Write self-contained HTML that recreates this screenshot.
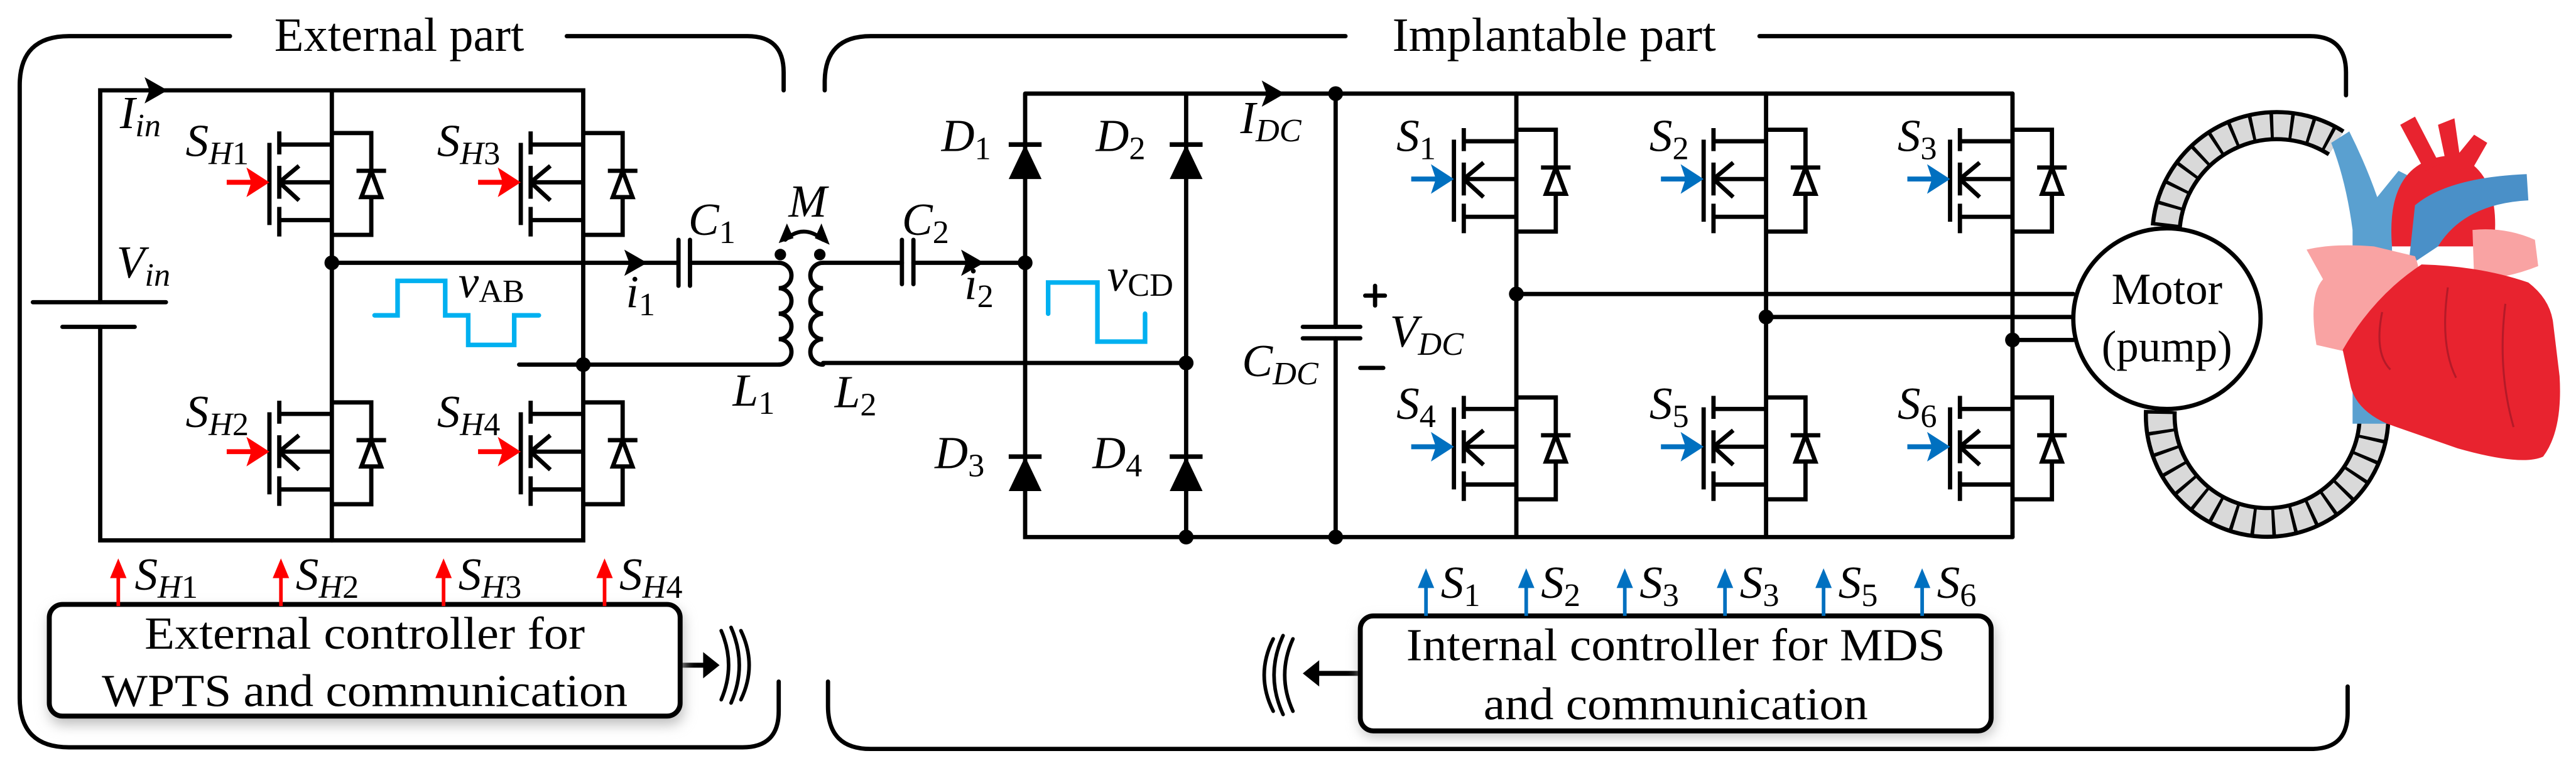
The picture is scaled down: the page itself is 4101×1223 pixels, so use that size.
<!DOCTYPE html>
<html><head><meta charset="utf-8"><style>html,body{margin:0;padding:0;background:#fff}svg{display:block;font-family:"Liberation Serif","Times New Roman",Times,"DejaVu Serif",serif}svg text,svg tspan{font-family:"Liberation Serif","Times New Roman",Times,"DejaVu Serif",serif}</style></head>
<body>
<svg xmlns="http://www.w3.org/2000/svg" width="4101" height="1223" viewBox="0 0 1568 467.6" preserveAspectRatio="none" font-family="'Liberation Serif', 'Times New Roman', serif">
<defs>
<filter id="sh" x="-10%" y="-20%" width="120%" height="140%"><feGaussianBlur stdDeviation="4"/></filter>
<g id="mos" fill="none" stroke="#000" stroke-width="2.6">
 <path d="M0,7H-32M-32,30H0M-32,53H0"/>
 <path d="M-32,-1V13M-32,20V40M-32,45V63"/>
 <path d="M-38,6V56"/>
 <path d="M-32,30L-20,20M-32,30L-20,41"/>
 <path d="M0,0H24V62H0"/>
 <path d="M24,23V39" />
 <polygon points="24,23 18,39 30,39" fill="#fff"/>
 <path d="M15,23H33"/>
</g>
<g id="garR"><path d="M-64,30H-48" stroke="#f00" stroke-width="3"/><polygon points="-38,30 -52,21 -49,30 -52,39" fill="#f00"/></g>
<g id="garB"><path d="M-64,30H-48" stroke="#0070c0" stroke-width="3"/><polygon points="-38,30 -52,21 -49,30 -52,39" fill="#0070c0"/></g>
<g id="dio"><path d="M-10,0H10" stroke="#000" stroke-width="2.8"/><polygon points="0,0 -10,21 10,21" fill="#000"/></g>
</defs>

<g fill="none" stroke="#000" stroke-width="2.6" stroke-linecap="round">
<path d="M140,22H42Q12,22 12,52V425Q12,455 42,455H452Q474,455 474,433V415"/>
<path d="M345,22H455Q477,22 477,44V55"/>
<path d="M819,22H530Q502,22 502,50V55"/>
<path d="M1071,22H1406Q1428,22 1428,44V58"/>
<path d="M504,415V430Q504,456 530,456H1407Q1429,456 1429,434V418"/>

<path d="M61,184V55H355V329H61V199"/>
<path d="M20,184H101M38,199H82"/>
<path d="M202,55V329"/>
<path d="M202,160H413M420,160H474"/>
<path d="M316,222H474"/>
<path d="M413,146V174M420,146V174"/>
<path d="M474,160a7.75,7.75 0 0 1 0,15.5a7.75,7.75 0 0 1 0,15.5a7.75,7.75 0 0 1 0,15.5a7.75,7.75 0 0 1 0,15.5"/>
<path d="M501,160a7.75,7.75 0 0 0 0,15.5a7.75,7.75 0 0 0 0,15.5a7.75,7.75 0 0 0 0,15.5a7.75,7.75 0 0 0 0,15.5"/>
<path d="M501,160H549M556,160H624M501,221H722"/>
<path d="M549,146V173M556,146V173"/>
<path d="M478,146Q489,136 501,146" stroke-width="2.4"/>
<path d="M624,57H1225M624,57V327H1225M722,57V327M813,57V199M813,206V327"/>
<path d="M793,199H828M793,206H828"/>
<path d="M831,180H843M837,174V186M828,224H842"/>
<path d="M923,57V327M1075,57V327M1225,57V327"/>
<path d="M923,179H1262M1075,193H1261M1225,207H1262"/>
<path d="M414,405H430" stroke-width="3"/>
<path d="M828,410H803" stroke-width="3"/>
<path d="M439,384Q448,405 439,426M445,382Q455,405 445,428M451,384Q461,405 451,426" stroke-width="2.2"/>
<path d="M787,389Q777,411 787,433M781,387Q770,411 781,435M775,389Q764,411 775,433" stroke-width="2.2"/>
</g>
<polygon points="438,405 428,397 428,413"/>
<polygon points="793,410 803,402 803,418"/>

<polygon points="102,55 88,47 91,55 88,63"/>
<polygon points="394,160 380,152 383,160 380,168"/>
<polygon points="599,160 585,152 588,160 585,168"/>
<polygon points="782,57 768,49 771,57 768,65"/>
<polygon points="474,148 479,136 483,145"/>
<polygon points="505,149 500,136 496,145"/>
<g fill="#000"><circle cx="202" cy="160" r="4.5"/><circle cx="355" cy="222" r="4.5"/><circle cx="475" cy="155" r="3.5"/><circle cx="499" cy="155" r="3.5"/>
<circle cx="624" cy="160" r="4.5"/><circle cx="722" cy="221" r="4.5"/><circle cx="722" cy="327" r="4.5"/><circle cx="813" cy="57" r="4.5"/><circle cx="813" cy="327" r="4.5"/>
<circle cx="923" cy="179" r="4.5"/><circle cx="1075" cy="193" r="4.5"/><circle cx="1225" cy="207" r="4.5"/></g>

<use href="#dio" x="624" y="88"/><use href="#dio" x="722" y="88"/><use href="#dio" x="624" y="278"/><use href="#dio" x="722" y="278"/>

<use href="#mos" x="202" y="81"/><use href="#garR" x="202" y="81"/>
<use href="#mos" x="355" y="81"/><use href="#garR" x="355" y="81"/>
<use href="#mos" x="202" y="245"/><use href="#garR" x="202" y="245"/>
<use href="#mos" x="355" y="245"/><use href="#garR" x="355" y="245"/>
<use href="#mos" x="923" y="79"/><use href="#garB" x="923" y="79"/>
<use href="#mos" x="1075" y="79"/><use href="#garB" x="1075" y="79"/>
<use href="#mos" x="1225" y="79"/><use href="#garB" x="1225" y="79"/>
<use href="#mos" x="923" y="242"/><use href="#garB" x="923" y="242"/>
<use href="#mos" x="1075" y="242"/><use href="#garB" x="1075" y="242"/>
<use href="#mos" x="1225" y="242"/><use href="#garB" x="1225" y="242"/>

<path d="M228,192H242V171H271V192H285V210H313V192H328" fill="none" stroke="#00b0f0" stroke-width="2.8" stroke-linecap="round"/>
<path d="M638,191V172H668V208H697V191" fill="none" stroke="#00b0f0" stroke-width="2.8" stroke-linecap="round"/>

<rect x="30" y="371" width="386" height="70" rx="8" fill="#bbb" filter="url(#sh)"/>
<rect x="30" y="368" width="384" height="68" rx="8" fill="#fff" stroke="#000" stroke-width="3"/>
<rect x="828" y="378" width="386" height="70" rx="8" fill="#bbb" filter="url(#sh)"/>
<rect x="828" y="375" width="384" height="70" rx="8" fill="#fff" stroke="#000" stroke-width="3"/>
<g font-size="28" text-anchor="middle">
<text x="222" y="395" textLength="268" lengthAdjust="spacingAndGlyphs">External controller for</text>
<text x="222" y="430" textLength="320" lengthAdjust="spacingAndGlyphs">WPTS and communication</text>
<text x="1020" y="402" textLength="328" lengthAdjust="spacingAndGlyphs">Internal controller for MDS</text>
<text x="1020" y="438" textLength="234" lengthAdjust="spacingAndGlyphs">and communication</text>
<text x="243" y="31" font-size="29" textLength="152" lengthAdjust="spacingAndGlyphs">External part</text>
<text x="946" y="31" font-size="29" textLength="197" lengthAdjust="spacingAndGlyphs">Implantable part</text>
</g>

<g stroke="#f00" stroke-width="2.2"><path d="M72,369V348M171,369V348M270,369V348M368,369V348"/></g>
<g fill="#f00"><polygon points="72,340 67,352 77,352"/><polygon points="171,340 166,352 176,352"/><polygon points="270,340 265,352 275,352"/><polygon points="368,340 363,352 373,352"/></g>
<g stroke="#0070c0" stroke-width="2.2"><path d="M868,375V354M929,375V354M989,375V354M1050,375V354M1110,375V354M1170,375V354"/></g>
<g fill="#0070c0"><polygon points="868,346 863,358 873,358"/><polygon points="929,346 924,358 934,358"/><polygon points="989,346 984,358 994,358"/><polygon points="1050,346 1045,358 1055,358"/><polygon points="1110,346 1105,358 1115,358"/><polygon points="1170,346 1165,358 1175,358"/></g>

<g font-size="28" font-style="italic">
<text x="82" y="359">S<tspan font-size="20" dy="5">H</tspan><tspan font-size="20" font-style="normal">1</tspan></text>
<text x="180" y="359">S<tspan font-size="20" dy="5">H</tspan><tspan font-size="20" font-style="normal">2</tspan></text>
<text x="279" y="359">S<tspan font-size="20" dy="5">H</tspan><tspan font-size="20" font-style="normal">3</tspan></text>
<text x="377" y="359">S<tspan font-size="20" dy="5">H</tspan><tspan font-size="20" font-style="normal">4</tspan></text>
<text x="113" y="95">S<tspan font-size="20" dy="5">H</tspan><tspan font-size="20" font-style="normal">1</tspan></text>
<text x="266" y="95">S<tspan font-size="20" dy="5">H</tspan><tspan font-size="20" font-style="normal">3</tspan></text>
<text x="113" y="260">S<tspan font-size="20" dy="5">H</tspan><tspan font-size="20" font-style="normal">2</tspan></text>
<text x="266" y="260">S<tspan font-size="20" dy="5">H</tspan><tspan font-size="20" font-style="normal">4</tspan></text>
<text x="73" y="78">I<tspan font-size="20" dy="5">in</tspan></text>
<text x="71" y="169">V<tspan font-size="20" dy="5">in</tspan></text>
<text x="419" y="143">C<tspan font-size="20" dy="5" font-style="normal">1</tspan></text>
<text x="480" y="132">M</text>
<text x="381" y="187">i<tspan font-size="20" dy="5" font-style="normal">1</tspan></text>
<text x="446" y="247">L<tspan font-size="20" dy="5" font-style="normal">1</tspan></text>
<text x="508" y="248">L<tspan font-size="20" dy="5" font-style="normal">2</tspan></text>
<text x="549" y="143">C<tspan font-size="20" dy="5" font-style="normal">2</tspan></text>
<text x="587" y="182">i<tspan font-size="20" dy="5" font-style="normal">2</tspan></text>
<text x="279" y="181">v<tspan font-size="20" dy="3" font-style="normal">AB</tspan></text>
<text x="674" y="177">v<tspan font-size="20" dy="3" font-style="normal">CD</tspan></text>
<text x="573" y="92">D<tspan font-size="20" dy="5" font-style="normal">1</tspan></text>
<text x="667" y="92">D<tspan font-size="20" dy="5" font-style="normal">2</tspan></text>
<text x="569" y="285">D<tspan font-size="20" dy="5" font-style="normal">3</tspan></text>
<text x="665" y="285">D<tspan font-size="20" dy="5" font-style="normal">4</tspan></text>
<text x="755" y="81">I<tspan font-size="20" dy="5">DC</tspan></text>
<text x="756" y="229">C<tspan font-size="20" dy="5">DC</tspan></text>
<text x="846" y="211">V<tspan font-size="20" dy="5">DC</tspan></text>
<text x="850" y="92">S<tspan font-size="20" dy="5" font-style="normal">1</tspan></text>
<text x="1004" y="92">S<tspan font-size="20" dy="5" font-style="normal">2</tspan></text>
<text x="1155" y="92">S<tspan font-size="20" dy="5" font-style="normal">3</tspan></text>
<text x="850" y="255">S<tspan font-size="20" dy="5" font-style="normal">4</tspan></text>
<text x="1004" y="255">S<tspan font-size="20" dy="5" font-style="normal">5</tspan></text>
<text x="1155" y="255">S<tspan font-size="20" dy="5" font-style="normal">6</tspan></text>
<text x="877" y="364">S<tspan font-size="20" dy="5" font-style="normal">1</tspan></text>
<text x="938" y="364">S<tspan font-size="20" dy="5" font-style="normal">2</tspan></text>
<text x="998" y="364">S<tspan font-size="20" dy="5" font-style="normal">3</tspan></text>
<text x="1059" y="364">S<tspan font-size="20" dy="5" font-style="normal">3</tspan></text>
<text x="1119" y="364">S<tspan font-size="20" dy="5" font-style="normal">5</tspan></text>
<text x="1179" y="364">S<tspan font-size="20" dy="5" font-style="normal">6</tspan></text>
</g>

<g fill="none">
<path d="M1318.6,138 A67.5,67.5 0 0 1 1422,87" stroke="#000" stroke-width="19"/>
<path d="M1318.6,138 A67.5,67.5 0 0 1 1422,87" stroke="#d9d9d9" stroke-width="14"/>
<path d="M1318.6,138 A67.5,67.5 0 0 1 1422,87" stroke="#000" stroke-width="15" stroke-dasharray="2 10"/>
<path d="M1315,250 A65,65 0 0 0 1445,256" stroke="#000" stroke-width="20"/>
<path d="M1315,250 A65,65 0 0 0 1445,256" stroke="#d9d9d9" stroke-width="15"/>
<path d="M1315,250 A65,65 0 0 0 1445,256" stroke="#000" stroke-width="16" stroke-dasharray="2 10"/>
</g>

<g>
<path d="M1419,87 L1430,80 Q1440,100 1447,120 L1460,104 L1472,110 Q1458,125 1456,150 L1456,258 L1432,258 L1432,140 Q1428,110 1419,87 Z" fill="#5aa0d0"/>
<path d="M1456,150 Q1452,100 1488,95 L1484,76 L1494,72 L1497,93 L1506,82 L1514,87 L1506,101 Q1522,115 1518,150 Z" fill="#e8232f"/>
<path d="M1461,76 L1470,71 L1485,100 L1476,104 Z" fill="#e8232f"/>
<path d="M1470,125 Q1490,108 1538,106 L1539,122 Q1500,124 1484,150 L1466,162 Z" fill="#4a90c8"/>
<path d="M1404,152 Q1420,148 1445,150 L1470,156 Q1478,175 1460,190 L1432,215 L1410,210 Q1405,180 1414,170 Z" fill="#f9a3a3"/>
<path d="M1505,140 Q1525,138 1543,146 L1545,162 Q1525,170 1506,170 Z" fill="#f9a3a3"/>
<path d="M1426,213 Q1445,180 1474,161 Q1510,162 1539,172 Q1552,182 1554,196 L1558,229 Q1560,262 1548,278 Q1535,284 1496,273 L1453,258 Q1435,250 1431,236 Z" fill="#e8232f"/>
<path d="M1450,190 Q1445,215 1455,225 M1490,175 Q1485,210 1495,230 M1525,185 Q1520,225 1530,260" fill="none" stroke="#b51a28" stroke-width="1.2"/>
</g>

<ellipse cx="1319" cy="194" rx="57" ry="55" fill="#fff" stroke="#000" stroke-width="2.6"/>
<text x="1319" y="185" font-size="27" text-anchor="middle">Motor</text>
<text x="1319" y="220" font-size="27" text-anchor="middle">(pump)</text>
</svg>
</body></html>
